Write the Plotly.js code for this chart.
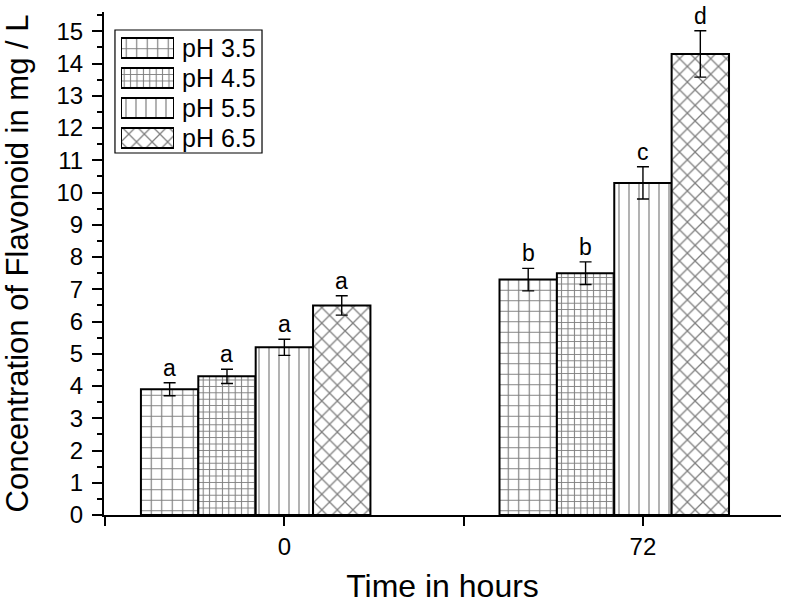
<!DOCTYPE html>
<html><head><meta charset="utf-8">
<script src="https://cdn.plot.ly/plotly-3.0.1.min.js"></script>
<style>body{margin:0;background:#fff}#c{width:786px;height:610px}</style>
</head><body><div id="c"></div>
<script>
const times = ['0', '72'];
const seriesNames = ['pH 3.5', 'pH 4.5', 'pH 5.5', 'pH 6.5'];
const ph35 = [3.9, 7.3];
const ph45 = [4.3, 7.5];
const ph55 = [5.2, 10.3];
const ph65 = [6.5, 14.3];
const err35 = [0.2, 0.35];
const err45 = [0.22, 0.35];
const err55 = [0.25, 0.5];
const err65 = [0.3, 0.72];
const letters35 = ['a', 'b'];
const letters45 = ['a', 'b'];
const letters55 = ['a', 'c'];
const letters65 = ['a', 'd'];
const yTicks = [0,1,2,3,4,5,6,7,8,9,10,11,12,13,14,15];

const FONT = '"Liberation Sans", Arial, sans-serif';
const values = [ph35, ph45, ph55, ph65];
const errs = [err35, err45, err55, err65];
const letters = [letters35, letters45, letters55, letters65];
const patterns = [
  {shape: '+', size: 10.5, solidity: 0.21},
  {shape: '+', size: 6.4, solidity: 0.3},
  {shape: '|', size: 10, solidity: 0.12},
  {shape: 'x', size: 11, solidity: 0.22}
];
const xpos = times.map((t, i) => i);
const barW = 0.16;

const traces = values.map((v, k) => ({
  type: 'bar', name: seriesNames[k], x: xpos, y: v,
  width: barW, offset: (k - 2.5) * barW,
  marker: {color: '#ffffff', line: {color: '#000', width: 2},
    pattern: Object.assign({fgcolor: '#000', bgcolor: '#fff', fillmode: 'overlay'}, patterns[k])},
  error_y: {type: 'data', array: errs[k], visible: true, color: '#000', thickness: 1.4, width: 6},
  showlegend: false, xaxis: 'x', yaxis: 'y', hoverinfo: 'skip'
}));

// legend swatches drawn on a small helper axis
const legendTraces = values.map((v, k) => ({
  type: 'bar', orientation: 'h', x: [1], y: [3 - k], base: 0, width: 0.67,
  marker: {color: '#ffffff', line: {color: '#000', width: 2},
    pattern: Object.assign({fgcolor: '#000', bgcolor: '#fff', fillmode: 'overlay'}, patterns[k])},
  showlegend: false, xaxis: 'x2', yaxis: 'y2', hoverinfo: 'skip'
}));

const annotations = [];
values.forEach((v, k) => {
  v.forEach((val, i) => {
    annotations.push({x: xpos[i] + (k - 2) * barW, y: val + errs[k][i], xref: 'x', yref: 'y',
      text: letters[k][i], showarrow: false, yanchor: 'bottom', yshift: 0,
      font: {size: 23, color: '#000', family: FONT}});
  });
});
seriesNames.forEach((n, k) => {
  annotations.push({x: 0.1123, y: 3 - k, xref: 'paper', yref: 'y2', text: n, showarrow: false,
    xanchor: 'left', yanchor: 'middle', font: {size: 25, color: '#000', family: FONT}});
});

const layout = {
  width: 786, height: 610,
  margin: {l: 104, r: 5, t: 12, b: 95},
  paper_bgcolor: '#fff', plot_bgcolor: '#fff',
  font: {family: FONT, color: '#000'},
  barmode: 'overlay',
  xaxis: {
    range: [-0.503, 1.385], tickvals: xpos, ticktext: times,
    showline: true, linecolor: '#000', linewidth: 2, showgrid: false, zeroline: false,
    ticks: 'outside', ticklen: 9, tickwidth: 2, tickcolor: '#000',
    tickfont: {size: 24}, ticklabelstandoff: 0,
    minor: {tickvals: [-0.5, 0.5], ticks: 'outside', ticklen: 9, tickwidth: 2, tickcolor: '#000'},
    title: {text: 'Time in hours', font: {size: 32}, standoff: 16}
  },
  yaxis: {
    range: [0, 15.6], tickvals: yTicks,
    showline: true, linecolor: '#000', linewidth: 2, showgrid: false, zeroline: false,
    ticks: 'outside', ticklen: 10, tickwidth: 2, tickcolor: '#000',
    tickfont: {size: 24}, ticklabelstandoff: 4,
    minor: {dtick: 0.5, ticks: 'outside', ticklen: 5, tickwidth: 2, tickcolor: '#000'},
    title: {text: 'Concentration of Flavonoid in mg / L', font: {size: 31}, standoff: 20}
  },
  xaxis2: {domain: [0.0251, 0.1034], range: [0, 1], visible: false, fixedrange: true, anchor: 'y2'},
  yaxis2: {domain: [0.7197, 0.9583], range: [-0.5, 3.5], visible: false, fixedrange: true, anchor: 'x2'},
  shapes: [{type: 'rect', xref: 'paper', yref: 'paper', x0: 0.0162, x1: 0.2334, y0: 0.7197, y1: 0.9642,
    line: {color: '#000', width: 1.2}, fillcolor: 'rgba(0,0,0,0)'}],
  annotations: annotations,
  showlegend: false
};
Plotly.newPlot('c', traces.concat(legendTraces), layout, {displayModeBar: false, staticPlot: true});
</script></body></html>
